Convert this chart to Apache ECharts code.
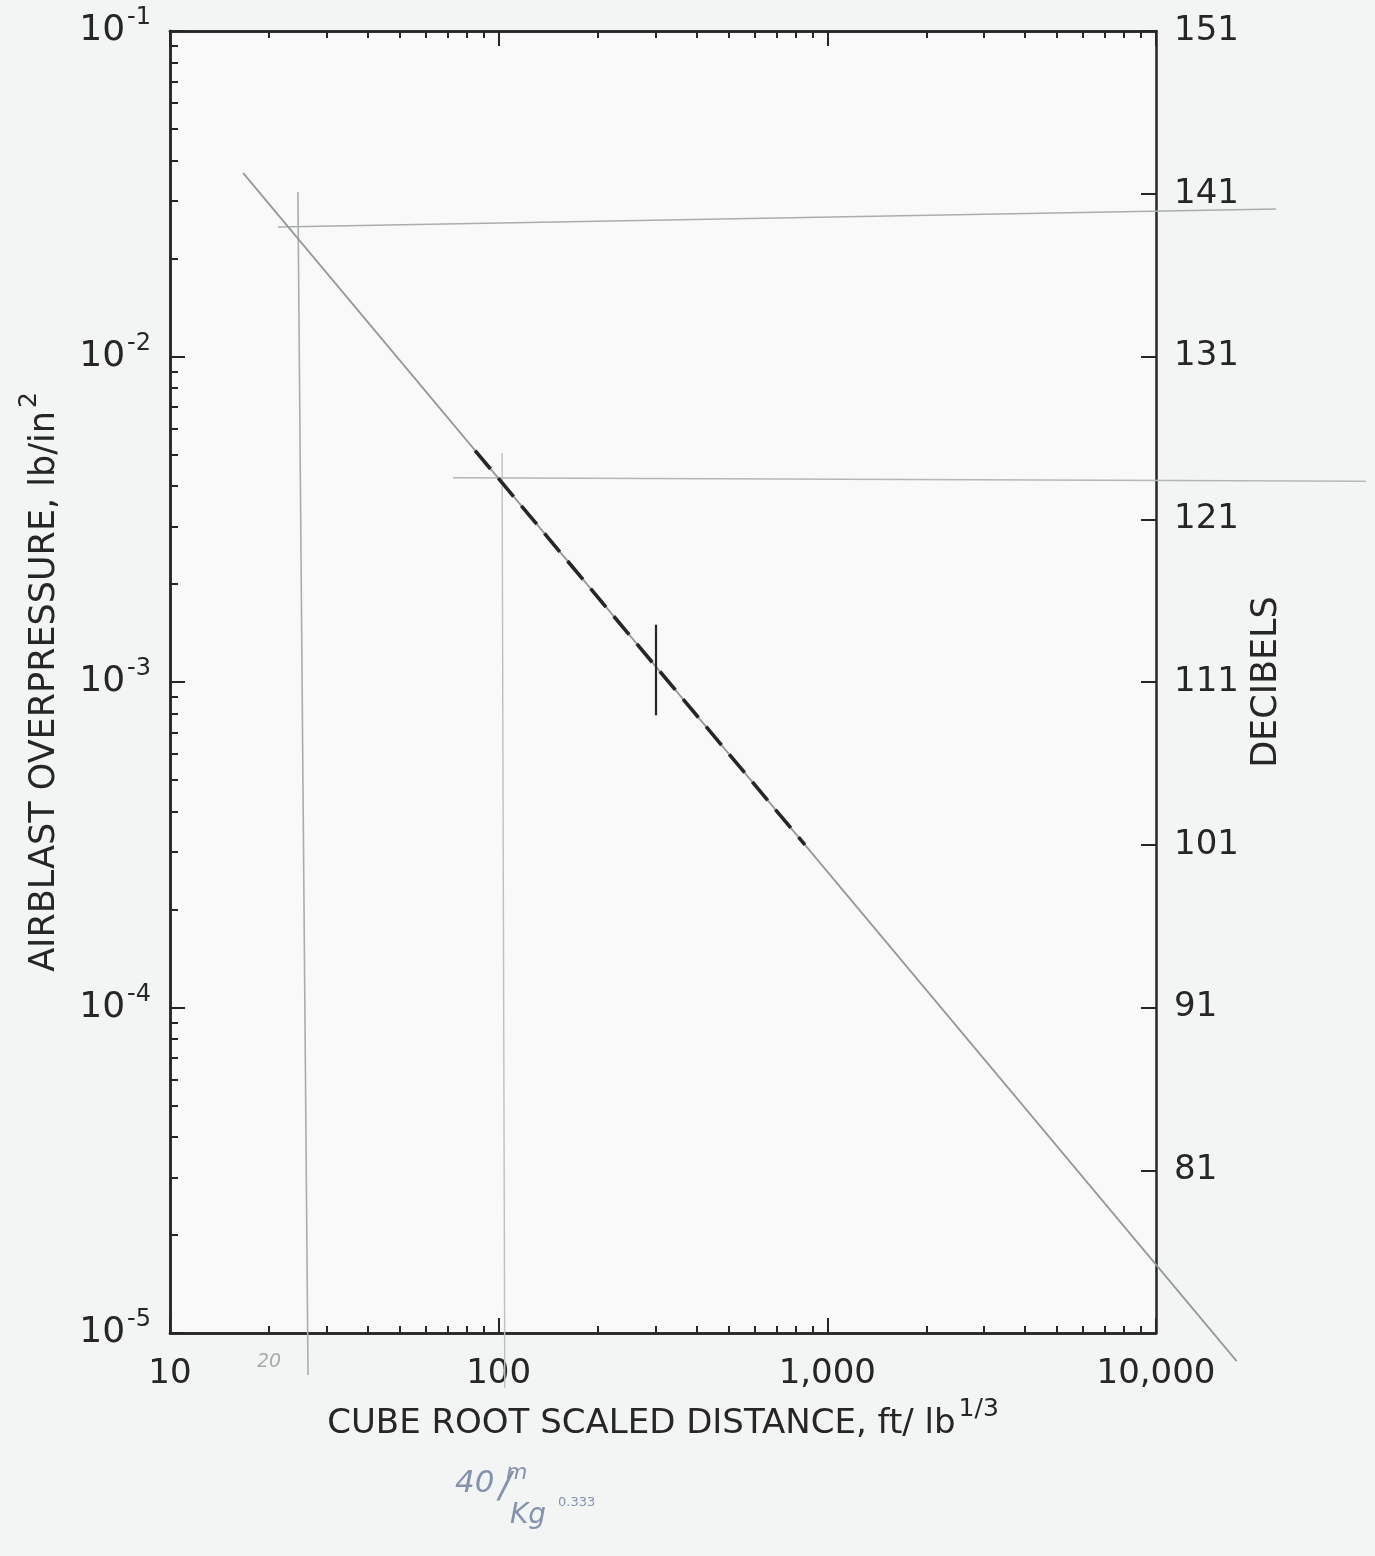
<!DOCTYPE html>
<html>
<head>
<meta charset="utf-8">
<script src="https://cdn.jsdelivr.net/npm/echarts@6/dist/echarts.min.js"></script>
<style>
  html, body { margin: 0; padding: 0; background: #f3f5f4; }
  #chart { width: 1375px; height: 1556px; }
</style>
</head>
<body>
<div id="chart"></div>
<script>
// ---------- data (real units) ----------
const xMajorValues = [10, 100, 1000, 10000];
const xMajorLabels = ['10', '100', '1,000', '10,000'];
const xMinorValues = [20, 30, 40, 50, 60, 70, 80, 90, 200, 300, 400, 500, 600, 700, 800, 900, 2000, 3000, 4000, 5000, 6000, 7000, 8000, 9000];
const yMajorValues = [1e-5, 1e-4, 1e-3, 1e-2, 1e-1];
const yExponents = ['-5', '-4', '-3', '-2', '-1'];
const yMinorValues = [2e-5, 3e-5, 4e-5, 5e-5, 6e-5, 7e-5, 8e-5, 9e-5, 2e-4, 3e-4, 4e-4, 5e-4, 6e-4, 7e-4, 8e-4, 9e-4, 2e-3, 3e-3, 4e-3, 5e-3, 6e-3, 7e-3, 8e-3, 9e-3, 2e-2, 3e-2, 4e-2, 5e-2, 6e-2, 7e-2, 8e-2, 9e-2];
const dbTicks = [81, 91, 101, 111, 121, 131, 141, 151];

// main attenuation line (ft/lb^1/3 , psi)
const slopeDistance = [16.7, 17600];
const slopePressure = [0.0366, 8.2e-6];
// dashed dark segment
const dashDistance = [84.8, 855];
const dashPressure = [5.14e-3, 3.16e-4];
// vertical bar on the dashed segment
const barDistance = [300, 300];
const barPressure = [1.50e-3, 7.9e-4];
// pencil guide lines
const guideTopDistance = [21.3, 23200];
const guideTopPressure = [0.0250, 0.0284];
const guideLeftDistance = [24.5, 26.3];
const guideLeftPressure = [0.0320, 7.43e-6];
const guideMidDistance = [72.6, 43500];
const guideMidPressure = [4.24e-3, 4.14e-3];
const guideVertDistance = [102.4, 104.4];
const guideVertPressure = [5.05e-3, 6.78e-6];

// ---------- helpers ----------
const L = Math.log10;
const seg = (xs, ys) => [{ coords: xs.map((x, i) => [L(x), L(ys[i])]) }];
const INK = '#262626';
const FONT = "'DejaVu Sans', 'Liberation Sans', sans-serif";

const chart = echarts.init(document.getElementById('chart'), null, { renderer: 'canvas' });

const baseX = {
  type: 'value', min: 1, max: 4, gridIndex: 0,
  splitLine: { show: false },
  axisLine: { show: true, onZero: false, lineStyle: { color: INK, width: 2.5 } }
};
const baseY = {
  type: 'value', min: -5, max: -1, gridIndex: 0,
  splitLine: { show: false },
  axisLine: { show: true, onZero: false, lineStyle: { color: INK, width: 2.5 } }
};

function lineSeries(name, xs, ys, style, z) {
  return {
    name: name, type: 'lines', coordinateSystem: 'cartesian2d',
    xAxisIndex: 0, yAxisIndex: 0, clip: false, silent: true, polyline: false,
    z: z || 2, data: seg(xs, ys), lineStyle: Object.assign({ opacity: 1, curveness: 0 }, style)
  };
}

const option = {
  backgroundColor: '#f3f5f4',
  animation: false,
  grid: { left: 170, top: 31, width: 986, height: 1302, show: true, backgroundColor: '#f8f9f8', borderWidth: 0 },
  xAxis: [
    Object.assign({}, baseX, {
      position: 'bottom',
      axisTick: { show: true, inside: true, length: 15, customValues: xMajorValues.map(L), lineStyle: { color: INK, width: 2 } },
      axisLabel: {
        show: true, margin: 24, customValues: xMajorValues.map(L),
        fontFamily: FONT, fontSize: 34, color: INK,
        formatter: v => xMajorLabels[Math.round(v) - 1]
      },
      name: 'CUBE ROOT SCALED DISTANCE, ft/ lb{s|1/3}',
      nameLocation: 'middle', nameGap: 64,
      nameTextStyle: {
        fontFamily: FONT, fontSize: 34, color: INK,
        rich: { s: { fontFamily: FONT, fontSize: 25, color: INK, padding: [0, 0, 30, 3] } }
      }
    }),
    Object.assign({}, baseX, {
      position: 'bottom',
      axisTick: { show: true, inside: true, length: 7, customValues: xMinorValues.map(L), lineStyle: { color: INK, width: 2 } },
      axisLabel: { show: false }
    }),
    Object.assign({}, baseX, {
      position: 'top',
      axisTick: { show: true, inside: true, length: 15, customValues: xMajorValues.map(L), lineStyle: { color: INK, width: 2 } },
      axisLabel: { show: false }
    }),
    Object.assign({}, baseX, {
      position: 'top',
      axisTick: { show: true, inside: true, length: 7, customValues: xMinorValues.map(L), lineStyle: { color: INK, width: 2 } },
      axisLabel: { show: false }
    })
  ],
  yAxis: [
    Object.assign({}, baseY, {
      position: 'left',
      axisTick: { show: true, inside: true, length: 15, customValues: yMajorValues.map(L), lineStyle: { color: INK, width: 2 } },
      axisLabel: {
        show: true, margin: 19, customValues: yMajorValues.map(L),
        fontFamily: FONT, fontSize: 35, color: INK,
        formatter: v => '{b|10}{s|' + yExponents[Math.round(v) + 5] + '}',
        rich: {
          b: { fontFamily: FONT, fontSize: 36, color: INK },
          s: { fontFamily: FONT, fontSize: 24, color: INK, padding: [0, 0, 26, 2] }
        }
      },
      name: 'AIRBLAST OVERPRESSURE, lb/in{s|2}',
      nameLocation: 'middle', nameGap: 98, nameRotate: 90,
      nameTextStyle: {
        fontFamily: FONT, fontSize: 35, color: INK,
        rich: { s: { fontFamily: FONT, fontSize: 25, color: INK, padding: [0, 0, 30, 3] } }
      }
    }),
    Object.assign({}, baseY, {
      position: 'left',
      axisTick: { show: true, inside: true, length: 8, customValues: yMinorValues.map(L), lineStyle: { color: INK, width: 2 } },
      axisLabel: { show: false }
    }),
    {
      type: 'value', min: 71, max: 151, gridIndex: 0, position: 'right',
      splitLine: { show: false },
      axisLine: { show: true, onZero: false, lineStyle: { color: INK, width: 2.5 } },
      axisTick: { show: true, inside: true, length: 15, customValues: dbTicks, lineStyle: { color: INK, width: 2 } },
      axisLabel: { show: true, margin: 18, customValues: dbTicks, fontFamily: FONT, fontSize: 34, color: INK },
      name: 'DECIBELS', nameLocation: 'middle', nameGap: 92, nameRotate: 90,
      nameTextStyle: { fontFamily: FONT, fontSize: 35, color: INK }
    }
  ],
  series: [
    lineSeries('guide-top', guideTopDistance, guideTopPressure, { color: '#a9aeac', width: 1.6 }, 2),
    lineSeries('guide-left', guideLeftDistance, guideLeftPressure, { color: '#a9aeac', width: 1.6 }, 2),
    lineSeries('guide-mid', guideMidDistance, guideMidPressure, { color: '#b3b8b6', width: 1.5 }, 2),
    lineSeries('guide-vert', guideVertDistance, guideVertPressure, { color: '#bcc1bf', width: 1.4 }, 2),
    lineSeries('attenuation', slopeDistance, slopePressure, { color: '#959a98', width: 1.8 }, 3),
    lineSeries('measured range', dashDistance, dashPressure, { color: '#262626', width: 3.6, type: [24, 12] }, 4),
    lineSeries('bar', barDistance, barPressure, { color: '#262626', width: 2.2 }, 4)
  ],
  graphic: [
    { type: 'text', left: 257, top: 1353, silent: true,
      style: { text: '20', fontFamily: FONT, fontStyle: 'italic', fontSize: 19, fill: '#a7aaa9' } },
    { type: 'text', left: 455, top: 1468, silent: true,
      style: { text: '40', fontFamily: FONT, fontStyle: 'italic', fontSize: 31, fill: '#8592ad' } },
    { type: 'text', left: 506, top: 1462, silent: true,
      style: { text: 'm', fontFamily: FONT, fontStyle: 'italic', fontSize: 22, fill: '#8592ad' } },
    { type: 'text', left: 499, top: 1470, silent: true,
      style: { text: '/', fontFamily: FONT, fontStyle: 'italic', fontSize: 36, fill: '#8592ad' } },
    { type: 'text', left: 510, top: 1502, silent: true,
      style: { text: 'Kg', fontFamily: FONT, fontStyle: 'italic', fontSize: 28, fill: '#8592ad' } },
    { type: 'text', left: 558, top: 1496, silent: true,
      style: { text: '0.333', fontFamily: FONT, fontSize: 13, fill: '#8592ad' } }
  ]
};

chart.setOption(option);
</script>
</body>
</html>
